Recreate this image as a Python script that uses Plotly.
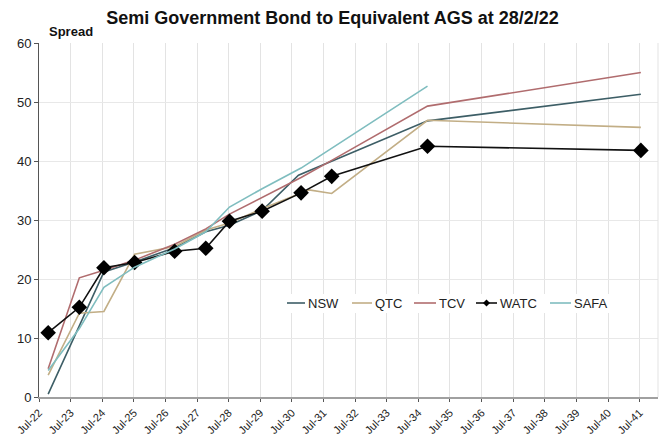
import plotly.graph_objects as go

# Bond maturities and spreads (bp) to equivalent AGS
nsw_dates = ["2022-10-15", "2024-07-20", "2025-07-10", "2026-10-15", "2027-10-10",
             "2028-07-10", "2029-07-22", "2030-09-15", "2034-10-15", "2041-07-15"]
nsw_spread = [0.5, 21.2, 22.9, 25.3, 28.0, 29.1, 31.6, 37.6, 46.8, 51.3]

qtc_dates = ["2022-10-15", "2023-10-10", "2024-07-20", "2025-07-10", "2026-10-15",
             "2027-10-10", "2028-07-10", "2029-07-22", "2031-01-15", "2031-10-04",
             "2034-10-15", "2041-07-15"]
qtc_spread = [3.7, 14.2, 14.5, 24.2, 25.5, 28.3, 29.5, 31.9, 35.1, 34.5, 46.9, 45.7]

tcv_dates = ["2022-10-15", "2023-10-10", "2024-07-20", "2025-07-10", "2026-10-15",
             "2027-10-10", "2028-07-10", "2029-07-22", "2030-10-15", "2031-10-04",
             "2034-10-15", "2041-07-15"]
tcv_spread = [4.8, 20.2, 21.5, 23.2, 25.9, 28.5, 31.0, 33.8, 37.2, 40.1, 49.3, 55.0]

watc_dates = ["2022-10-15", "2023-10-10", "2024-07-20", "2025-07-10", "2026-10-15",
              "2027-10-10", "2028-07-10", "2029-07-22", "2030-10-15", "2031-10-04",
              "2034-10-15", "2041-07-15"]
watc_spread = [10.9, 15.2, 21.9, 22.8, 24.7, 25.2, 29.8, 31.5, 34.6, 37.4, 42.5, 41.8]

safa_dates = ["2022-10-15", "2023-10-10", "2024-07-20", "2025-07-10", "2026-10-15",
              "2027-10-10", "2028-07-10", "2029-07-22", "2030-10-15", "2031-10-04",
              "2034-10-15"]
safa_spread = [4.5, 11.6, 18.6, 22.0, 25.1, 28.0, 32.2, 35.3, 38.8, 42.2, 52.7]

series = [
    ("NSW", nsw_dates, nsw_spread, "#3d5e66", False),
    ("QTC", qtc_dates, qtc_spread, "#c2ae86", False),
    ("TCV", tcv_dates, tcv_spread, "#b06c6e", False),
    ("WATC", watc_dates, watc_spread, "#111111", True),
    ("SAFA", safa_dates, safa_spread, "#7fbdbf", False),
]

W, H = 665, 436
M_L, M_R, M_T, M_B = 39, 7, 43, 39
PW, PH = W - M_L - M_R, H - M_T - M_B


def px_x(p):
    return (p - M_L) / PW


def px_y(p):
    return (H - M_B - p) / PH


fig = go.Figure()
for name, xs, ys, color, markers in series:
    fig.add_trace(go.Scatter(
        x=xs, y=ys, name=name, showlegend=False,
        mode="lines+markers" if markers else "lines",
        line=dict(color=color, width=1.6),
        marker=dict(symbol="diamond", size=12, color="#000000") if markers else None,
    ))

# Inline legend box: line sample + label per series
shapes = [
    dict(type="line", xref="paper", yref="paper", x0=1, x1=1, y0=0, y1=1,
         line=dict(color="#e3e3e3", width=1)),
    dict(type="rect", xref="paper", yref="paper", layer="above",
         x0=px_x(282), x1=px_x(614), y0=px_y(313), y1=px_y(294),
         fillcolor="white", line=dict(width=0)),
]
annotations = []
legend_pos = [(287, 305), (352, 372), (414, 436), (476, 497), (550, 571)]
ly = px_y(303)
for (name, _, _, color, markers), (a, b) in zip(series, legend_pos):
    shapes.append(dict(type="line", xref="paper", yref="paper", layer="above",
                       x0=px_x(a), x1=px_x(b), y0=ly, y1=ly,
                       line=dict(color=color, width=1.6)))
    if markers:
        cx, cy, r = (a + b) / 2, 303, 3.5
        path = (f"M {px_x(cx - r)} {px_y(cy)} L {px_x(cx)} {px_y(cy - r)} "
                f"L {px_x(cx + r)} {px_y(cy)} L {px_x(cx)} {px_y(cy + r)} Z")
        shapes.append(dict(type="path", xref="paper", yref="paper", layer="above",
                           path=path, fillcolor="#000000", line=dict(width=0)))
    annotations.append(dict(text=name, xref="paper", yref="paper",
                            x=px_x(b + 1), y=ly, xanchor="left", yanchor="middle",
                            showarrow=False, font=dict(size=13, color="#222222")))

annotations.append(dict(text="<b>Spread</b>", xref="paper", yref="paper",
                        x=px_x(47), y=px_y(41), xanchor="left", yanchor="bottom",
                        showarrow=False, font=dict(size=13, color="#111111")))

fig.update_layout(
    width=W, height=H,
    margin=dict(l=M_L, r=M_R, t=M_T, b=M_B, autoexpand=False),
    paper_bgcolor="white", plot_bgcolor="white",
    font=dict(family="Liberation Sans, Arial, sans-serif", size=13, color="#222222"),
    title=dict(text="<b>Semi Government Bond to Equivalent AGS at 28/2/22</b>",
               x=0.5, xanchor="center", y=1 - 18 / H, yanchor="middle",
               font=dict(size=18, color="#111111")),
    showlegend=False,
    xaxis=dict(
        type="date", automargin=False,
        range=["2022-07-01", "2042-01-29"],
        tick0="2022-07-01", dtick="M12", tickformat="%b-%y",
        tickangle=-45, tickfont=dict(size=11),
        showgrid=True, gridcolor="#e3e3e3", gridwidth=1,
        showline=True, linecolor="#a0a0a0", linewidth=2,
        ticks="outside", ticklen=3, tickcolor="#555555",
        zeroline=False,
    ),
    yaxis=dict(
        automargin=False,
        range=[0, 60], dtick=10,
        showgrid=True, gridcolor="#e8e8e8", gridwidth=1,
        showline=True, linecolor="#555555", linewidth=1,
        ticks="outside", ticklen=4, tickcolor="#555555",
        tickfont=dict(size=13),
        zeroline=False,
    ),
    annotations=annotations,
    shapes=shapes,
)

fig.write_html("out.html")
